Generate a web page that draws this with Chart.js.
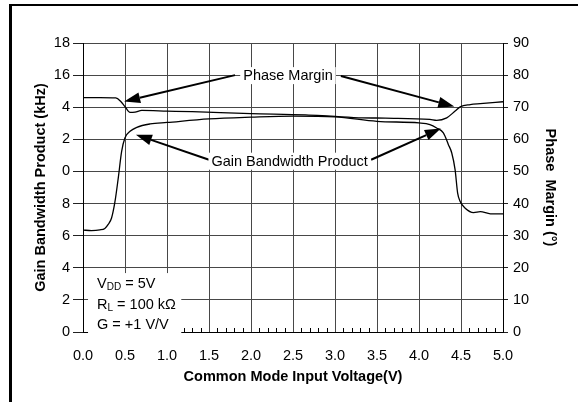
<!DOCTYPE html>
<html>
<head>
<meta charset="utf-8">
<script src="https://cdn.jsdelivr.net/npm/chart.js@4/dist/chart.umd.min.js"></script>
<style>
  html, body { margin: 0; padding: 0; background: #fff; }
  #c { display: block; }
</style>
</head>
<body>
<canvas id="c" width="578" height="402"></canvas>
<script>
// ---- Data ----
const gbpVoltage = [0, 0.1, 0.2, 0.26, 0.3, 0.34, 0.38, 0.42, 0.46, 0.5, 0.56, 0.64, 0.8, 1.0, 1.5, 2.0, 2.5, 3.0, 3.5, 4.0, 4.13, 4.21, 4.29, 4.35, 4.39, 4.43, 4.46, 4.49, 4.55, 4.65, 4.73, 4.85, 5.0];
const gbpKHz     = [6.35, 6.32, 6.36, 6.45, 6.7, 7.1, 8.1, 9.6, 11.25, 12.1, 12.5, 12.75, 12.96, 13.05, 13.27, 13.38, 13.45, 13.4, 13.12, 13.02, 12.92, 12.71, 12.4, 11.67, 11.15, 10.1, 8.65, 8.13, 7.71, 7.44, 7.5, 7.36, 7.36];

const pmVoltage = [0, 0.2, 0.39, 0.45, 0.5, 0.56, 0.62, 0.7, 1.0, 1.3, 2.0, 2.65, 2.95, 3.33, 3.6, 4.13, 4.21, 4.33, 4.43, 4.49, 4.61, 4.73, 5.0];
const pmDegrees = [73, 73, 72.9, 71.8, 70.2, 68.4, 68.5, 69.0, 68.8, 68.6, 68.0, 67.6, 67.2, 66.7, 66.6, 66.2, 65.9, 66.7, 68.8, 70.1, 70.8, 71.1, 71.7];

const xTickValues   = [0, 0.5, 1, 1.5, 2, 2.5, 3, 3.5, 4, 4.5, 5];
const leftTickLabels  = ['0', '2', '4', '6', '8', '0', '2', '4', '16', '18']; // values 0,2,...,18
const rightTickLabels = ['0', '10', '20', '30', '40', '50', '60', '70', '80', '90'];

const xTitle = 'Common Mode Input Voltage(V)';
const leftTitle = 'Gain Bandwidth Product (kHz)';
const rightTitle = 'Phase  Margin (°)';

const FONT = '"Liberation Sans", Arial, sans-serif';
const FS = 14.5;

// annotation layout (in data coordinates: x = volts, y = kHz on left scale)
const notes = {
  pm:  { text: 'Phase Margin', x: 2.44, y: 16.0,
         arrows: [[1.81, 16.0, 0.49, 14.36], [3.07, 15.95, 4.42, 14.04]] },
  gbp: { text: 'Gain Bandwidth Product', x: 2.46, y: 10.67,
         arrows: [[1.5, 10.73, 0.63, 12.29], [3.43, 10.73, 4.26, 12.67]] },
  cond: { box: [0.06, 3.67, 1.17, -0.15], x: 0.167,
          lines: [
            { y: 2.73, parts: [['V'], ['DD', true], [' = 5V']] },
            { y: 1.42, parts: [['R'], ['L', true], [' = 100 kΩ']] },
            { y: 0.17, parts: [['G = +1 V/V']] }
          ] }
};

function drawArrow(ctx, x1, y1, x2, y2) {
  const ang = Math.atan2(y2 - y1, x2 - x1);
  const hl = 16, hw = 5.5;
  const bx = x2 - hl * Math.cos(ang), by = y2 - hl * Math.sin(ang);
  ctx.beginPath();
  ctx.moveTo(x1, y1);
  ctx.lineTo(bx, by);
  ctx.lineWidth = 2;
  ctx.strokeStyle = '#000';
  ctx.stroke();
  ctx.beginPath();
  ctx.moveTo(x2, y2);
  ctx.lineTo(bx + hw * Math.sin(ang), by - hw * Math.cos(ang));
  ctx.lineTo(bx - hw * Math.sin(ang), by + hw * Math.cos(ang));
  ctx.closePath();
  ctx.fillStyle = '#000';
  ctx.fill();
}

const annotationPlugin = {
  id: 'annot',
  beforeDraw(chart) {
    const ctx = chart.ctx;
    ctx.save();
    ctx.fillStyle = '#fff';
    ctx.fillRect(0, 0, chart.width, chart.height);
    ctx.restore();
  },
  afterDatasetsDraw(chart) {
    const ctx = chart.ctx;
    const xs = chart.scales.x, ys = chart.scales.y;
    const px = v => xs.getPixelForValue(v);
    const py = v => ys.getPixelForValue(v);
    ctx.save();

    // minor ticks on x axis (inward)
    ctx.strokeStyle = '#000';
    ctx.lineWidth = 1;
    const bottom = chart.chartArea.bottom;
    for (let i = 1; i < 50; i++) {
      if (i % 5 === 0) continue;
      const x = Math.round(px(i / 10)) + 0.5;
      ctx.beginPath();
      ctx.moveTo(x, bottom);
      ctx.lineTo(x, bottom - 4);
      ctx.stroke();
    }

    ctx.font = FS + 'px ' + FONT;
    ctx.textBaseline = 'middle';
    ctx.textAlign = 'center';
    [notes.pm, notes.gbp].forEach(n => {
      n.arrows.forEach(a => drawArrow(ctx, px(a[0]), py(a[1]), px(a[2]), py(a[3])));
      const w = ctx.measureText(n.text).width;
      const cx = px(n.x), cy = py(n.y);
      ctx.fillStyle = '#fff';
      ctx.fillRect(cx - w / 2 - 3, cy - 8, w + 6, 17);
      ctx.fillStyle = '#000';
      ctx.fillText(n.text, cx, cy + 1);
    });

    // conditions box
    const b = notes.cond.box;
    ctx.fillStyle = '#fff';
    ctx.fillRect(px(b[0]), py(b[1]), px(b[2]) - px(b[0]), py(b[3]) - py(b[1]));
    ctx.fillStyle = '#000';
    ctx.textAlign = 'left';
    ctx.textBaseline = 'alphabetic';
    notes.cond.lines.forEach(line => {
      let x = px(notes.cond.x);
      const y = py(line.y);
      line.parts.forEach(p => {
        if (p[1]) {
          ctx.font = '10px ' + FONT;
          ctx.fillText(p[0], x, y + 2);
        } else {
          ctx.font = FS + 'px ' + FONT;
          ctx.fillText(p[0], x, y);
        }
        x += ctx.measureText(p[0]).width;
      });
    });

    ctx.restore();
  },
  afterDraw(chart) {
    // outer frame
    const ctx = chart.ctx;
    ctx.save();
    ctx.fillStyle = '#000';
    ctx.fillRect(9, 4, chart.width - 9, 2);
    ctx.fillRect(9, 4, 3, chart.height - 4);
    ctx.restore();
  }
};

new Chart(document.getElementById('c'), {
  type: 'line',
  data: {
    datasets: [
      {
        label: 'Gain Bandwidth Product',
        data: gbpVoltage.map((v, i) => ({ x: v, y: gbpKHz[i] })),
        yAxisID: 'y',
        borderColor: '#000',
        borderWidth: 1.3,
        pointRadius: 0,
        cubicInterpolationMode: 'monotone',
        fill: false
      },
      {
        label: 'Phase Margin',
        data: pmVoltage.map((v, i) => ({ x: v, y: pmDegrees[i] })),
        yAxisID: 'y1',
        borderColor: '#000',
        borderWidth: 1.3,
        pointRadius: 0,
        cubicInterpolationMode: 'monotone',
        fill: false
      }
    ]
  },
  options: {
    responsive: false,
    animation: false,
    layout: { padding: { left: 28, right: 15, top: 43, bottom: 12 } },
    plugins: { legend: { display: false }, tooltip: { enabled: false } },
    scales: {
      x: {
        type: 'linear', min: 0, max: 5,
        afterBuildTicks: s => { s.ticks = xTickValues.map(v => ({ value: v })); },
        afterFit: s => { s.height = 58; },
        ticks: { font: { family: FONT, size: FS }, color: '#000', padding: 15,
                 callback: v => Number(v).toFixed(1), maxRotation: 0 },
        grid: { color: '#484848', lineWidth: 1, drawTicks: false },
        border: { color: '#000', width: 1 },
        title: { display: true, text: xTitle, color: '#000',
                 font: { family: FONT, size: FS, weight: 'bold' }, padding: { top: 2, bottom: 4 } }
      },
      y: {
        type: 'linear', position: 'left', min: 0, max: 18,
        afterBuildTicks: s => { s.ticks = leftTickLabels.map((t, i) => ({ value: i * 2 })); },
        afterFit: s => { s.width = 55; },
        ticks: { font: { family: FONT, size: FS }, color: '#000', padding: 3,
                 callback: (v) => leftTickLabels[Math.round(v / 2)] },
        grid: { color: '#484848', lineWidth: 1, tickLength: 10, tickColor: '#222' },
        border: { color: '#000', width: 1 },
        title: { display: true, text: leftTitle, color: '#000',
                 font: { family: FONT, size: FS, weight: 'bold' }, padding: { top: 4, bottom: 4 } }
      },
      y1: {
        type: 'linear', position: 'right', min: 0, max: 90,
        afterBuildTicks: s => { s.ticks = rightTickLabels.map((t, i) => ({ value: i * 10 })); },
        afterFit: s => { s.width = 60; },
        ticks: { font: { family: FONT, size: FS }, color: '#000', padding: 5,
                 callback: (v) => rightTickLabels[Math.round(v / 10)] },
        grid: { drawOnChartArea: false, tickLength: 5, tickColor: '#222' },
        border: { color: '#000', width: 1 },
        title: { display: true, text: rightTitle, color: '#000',
                 font: { family: FONT, size: FS, weight: 'bold' }, padding: { top: 4, bottom: 4 } }
      }
    }
  },
  plugins: [annotationPlugin]
});
</script>
</body>
</html>
